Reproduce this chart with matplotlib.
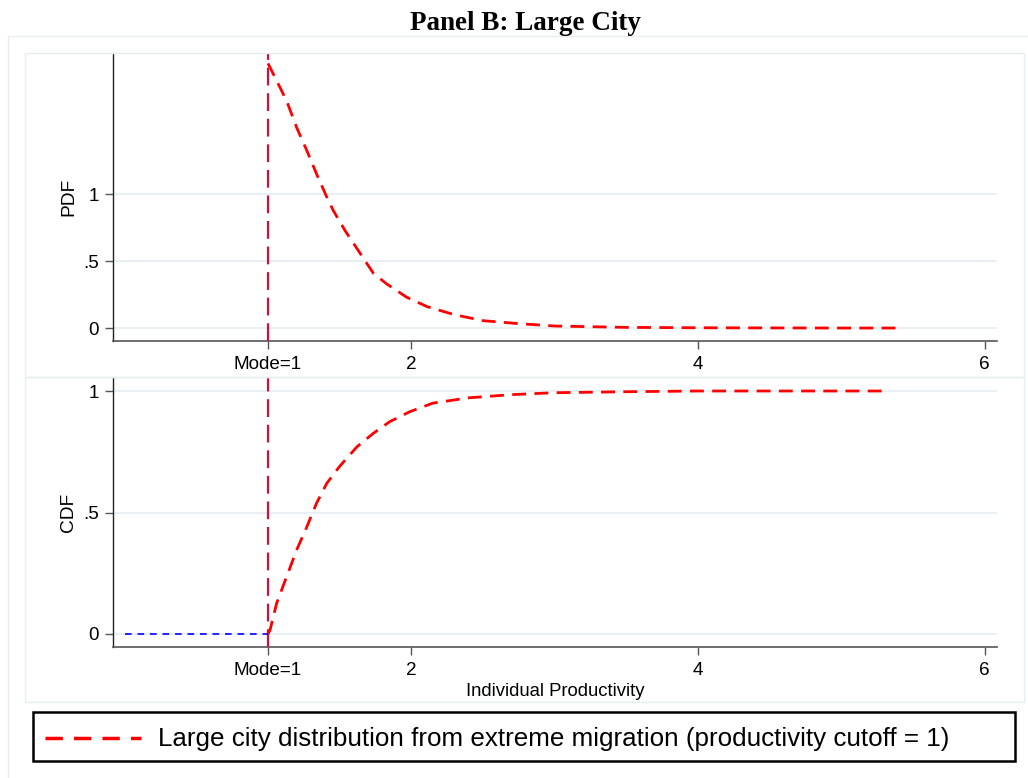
import matplotlib
matplotlib.use("Agg")
import matplotlib.pyplot as plt
from matplotlib.patches import Rectangle
from matplotlib.lines import Line2D

# ---------------- data ----------------
pdf_x = [1.0, 1.014, 1.13, 1.2, 1.27, 1.34, 1.41, 1.455, 1.537, 1.642, 1.735,
         1.828, 1.968, 2.11, 2.3, 2.5, 2.75, 3.0, 3.5, 4.0, 4.5, 5.0, 5.39]
pdf_y = [1.98, 1.95, 1.70, 1.50, 1.33, 1.15, 0.98, 0.88, 0.73, 0.56, 0.41,
         0.33, 0.23, 0.16, 0.10, 0.055, 0.033, 0.015, 0.005, 0.002, 0.001, 0.0, 0.0]

cdf_x = [1.0, 1.014, 1.06, 1.13, 1.2, 1.27, 1.34, 1.41, 1.5, 1.62, 1.735, 1.85,
         1.99, 2.15, 2.4, 2.7, 3.0, 3.5, 4.0, 4.5, 5.0, 5.31]
cdf_y = [0.0, 0.016, 0.126, 0.236, 0.346, 0.44, 0.54, 0.62, 0.69, 0.77, 0.826,
         0.874, 0.915, 0.95, 0.972, 0.985, 0.993, 0.997, 1.0, 1.0, 1.0, 1.0]

below_x = [0.0, 1.0]
below_y = [0.0, 0.0]

mode_x = 1.0
xticks = [1, 2, 4, 6]
xticklabels = ["Mode=1", "2", "4", "6"]
yticks = [0, 0.5, 1]
yticklabels = ["0", ".5", "1"]

title = "Panel B: Large City"
xlabel = "Individual Productivity"
legend_label = "Large city distribution from extreme migration (productivity cutoff = 1)"

# ---------------- figure ----------------
W, H = 1028, 778
fig = plt.figure(figsize=(W / 100, H / 100), dpi=100)
fig.patch.set_facecolor("white")
plt.rcParams["font.family"] = ["Liberation Sans", "DejaVu Sans"]

def fx(px):
    return px / W

def fy(py):
    return 1 - py / H

frame_col = "#e6eeee"
# outer graph region & panel regions
fig.add_artist(Rectangle((fx(8), fy(790)), fx(1040) - fx(8), fy(36) - fy(790),
                         transform=fig.transFigure, fill=False, ec=frame_col, lw=1))
fig.add_artist(Rectangle((fx(25), fy(377)), fx(1024) - fx(25), fy(52.7) - fy(377),
                         transform=fig.transFigure, fill=False, ec=frame_col, lw=1))
fig.add_artist(Rectangle((fx(25), fy(702)), fx(1024) - fx(25), fy(377) - fy(702),
                         transform=fig.transFigure, fill=False, ec=frame_col, lw=1))

xlim = (1 + (113 - 268) / 143.33, 1 + (997 - 268) / 143.33)

ax1 = fig.add_axes([fx(113), fy(341), fx(997) - fx(113), fy(52.7) - fy(341)])
ax2 = fig.add_axes([fx(113), fy(647), fx(997) - fx(113), fy(378) - fy(647)])

red = "#ff0000"
vcol = "#d0103a"
grid_col = "#e8f0f3"

for ax, ylim, lab in [(ax1, (-0.097, 2.06), "PDF"), (ax2, (-0.0535, 1.0535), "CDF")]:
    ax.set_xlim(xlim)
    ax.set_ylim(ylim)
    ax.set_facecolor("none")
    for s in ["top", "right"]:
        ax.spines[s].set_visible(False)
    ax.spines["left"].set_color("#222222")
    ax.spines["bottom"].set_color("#555555")
    ax.spines["left"].set_linewidth(1.0)
    ax.spines["bottom"].set_linewidth(1.2)
    ax.set_xticks(xticks)
    ax.set_xticklabels(xticklabels, fontsize=13.6)
    ax.set_yticks(yticks)
    ax.set_yticklabels(yticklabels, fontsize=13.6)
    ax.tick_params(axis="both", direction="out", length=6, width=1, color="#555555", pad=4)
    ax.tick_params(axis="x", pad=5)
    ax.grid(axis="y", color=grid_col, lw=1.5)
    ax.set_axisbelow(True)
    ax.set_ylabel(lab, fontsize=13.8)
    ax.yaxis.set_label_coords((77 - 113) / (997 - 113), 0.5)
    ax.axvline(mode_x, color=vcol, lw=1.6, dashes=(8, 3.5), zorder=3)

ax1.plot(pdf_x, pdf_y, color=red, lw=2.0, dashes=(5, 3), zorder=4)
ax2.plot(cdf_x, cdf_y, color=red, lw=2.0, dashes=(5, 3), zorder=4)
ax2.plot(below_x, below_y, color="#0000ff", lw=1.2, dashes=(4, 3.5), zorder=4)

ax2.set_xlabel(xlabel, fontsize=13.3, labelpad=3)

fig.text(fx(525), fy(23), title, ha="center", va="center", fontsize=19.5,
         fontweight="bold", family="Liberation Serif")

# legend box
fig.add_artist(Rectangle((fx(33), fy(761)), fx(1015) - fx(33), fy(712) - fy(761),
                         transform=fig.transFigure, fill=False, ec="black", lw=1.8))
fig.add_artist(Line2D([fx(45), fx(141)], [fy(738), fy(738)], transform=fig.transFigure,
                      color=red, lw=2.5, dashes=(5, 3.2)))
fig.text(fx(158), fy(739), legend_label, ha="left", va="center", fontsize=18.7)

fig.savefig("out.png", dpi=100)
